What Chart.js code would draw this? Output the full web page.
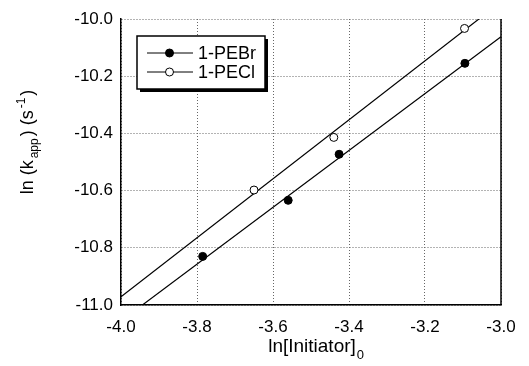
<!DOCTYPE html>
<html>
<head>
<meta charset="utf-8">
<script src="https://cdn.jsdelivr.net/npm/chart.js@4/dist/chart.umd.min.js"></script>
<style>
  html, body { margin: 0; padding: 0; background: #fff; }
  #wrap { width: 529px; height: 366px; position: relative; }
</style>
</head>
<body>
<div id="wrap"><canvas id="myChart" width="529" height="366"></canvas></div>
<script>
// data
const brX = [-3.785, -3.56, -3.426, -3.095];
const brY = [-10.83, -10.634, -10.473, -10.155];
const clX = [-3.65, -3.44, -3.096];
const clY = [-10.598, -10.414, -10.033];
// fitted lines (end points at x = -4 and x = -3)
const fitX = [-4.0, -3.0];
const fitBrY = [-11.056, -10.062];
const fitClY = [-10.971, -9.94];
const seriesNames = ["1-PEBr", "1-PECl"];

const FONT = "'Liberation Sans', Arial, sans-serif";

function pts(xs, ys) {
  return xs.map((x, i) => ({ x: x, y: ys[i] }));
}

// legend box with drop shadow, and axis titles with sub/superscripts
const extras = {
  id: "extras",
  afterDraw(chart) {
    const c = chart.ctx;
    const area = chart.chartArea;
    c.save();

    // solid right edge of the frame
    c.beginPath();
    c.moveTo(area.right, area.top);
    c.lineTo(area.right, area.bottom);
    c.strokeStyle = "#000";
    c.lineWidth = 1.5;
    c.stroke();

    // legend
    const bx = 137, by = 36, bw = 128, bh = 53;
    c.fillStyle = "#000";
    c.fillRect(bx + 3, by + 3, bw, bh);
    c.fillStyle = "#fff";
    c.fillRect(bx, by, bw, bh);
    c.strokeStyle = "#000";
    c.lineWidth = 1.5;
    c.strokeRect(bx, by, bw, bh);
    const rows = [53, 72];
    const fills = ["#000", "#fff"];
    rows.forEach((ry, i) => {
      c.beginPath();
      c.moveTo(147, ry);
      c.lineTo(193, ry);
      c.lineWidth = 1;
      c.strokeStyle = "#000";
      c.stroke();
      c.beginPath();
      c.arc(169.5, ry, 4, 0, Math.PI * 2);
      c.fillStyle = fills[i];
      c.fill();
      c.stroke();
      c.fillStyle = "#000";
      c.font = "18px " + FONT;
      c.textBaseline = "middle";
      c.textAlign = "left";
      c.fillText(seriesNames[i], 198, ry + 1);
    });

    // x title: ln[Initiator]0
    c.fillStyle = "#000";
    c.textBaseline = "alphabetic";
    c.font = "19px " + FONT;
    const xt = "ln[Initiator]";
    const xw = c.measureText(xt).width;
    const x0 = 316 - (xw + 8) / 2;
    c.fillText(xt, x0, 352);
    c.font = "13px " + FONT;
    c.fillText("0", x0 + xw + 1, 359);

    // y title: ln (k_app) (s^-1)
    c.translate(33, 141);
    c.rotate(-Math.PI / 2);
    const parts = [
      ["ln (k", 18, 0],
      ["app", 12, 5],
      [") (s", 18, 0],
      ["-1", 12, -8],
      [")", 18, 0],
    ];
    let total = 0;
    parts.forEach((p) => {
      c.font = p[1] + "px " + FONT;
      total += c.measureText(p[0]).width + 2;
    });
    let px = -total / 2;
    parts.forEach((p) => {
      c.font = p[1] + "px " + FONT;
      c.fillText(p[0], px, p[2]);
      px += c.measureText(p[0]).width + 2;
    });

    c.restore();
  },
};

const ctx = document.getElementById("myChart").getContext("2d");
window.chart = new Chart(ctx, {
  type: "scatter",
  data: {
    datasets: [
      {
        label: seriesNames[0],
        data: pts(brX, brY),
        pointRadius: 4,
        pointBackgroundColor: "#000",
        pointBorderColor: "#000",
        pointBorderWidth: 1,
        showLine: false,
      },
      {
        label: seriesNames[1],
        data: pts(clX, clY),
        pointRadius: 4,
        pointBackgroundColor: "#fff",
        pointBorderColor: "#000",
        pointBorderWidth: 1,
        showLine: false,
      },
      {
        label: "fit Br",
        data: pts(fitX, fitBrY),
        showLine: true,
        borderColor: "#000",
        borderWidth: 1.2,
        pointRadius: 0,
        order: 5,
      },
      {
        label: "fit Cl",
        data: pts(fitX, fitClY),
        showLine: true,
        borderColor: "#000",
        borderWidth: 1.2,
        pointRadius: 0,
        order: 5,
      },
    ],
  },
  options: {
    responsive: false,
    animation: false,
    layout: { padding: { left: 0, right: 28, top: 19, bottom: 0 } },
    plugins: {
      legend: { display: false },
      tooltip: { enabled: false },
    },
    scales: {
      x: {
        type: "linear",
        min: -4.0,
        max: -3.0,
        ticks: {
          stepSize: 0.2,
          padding: 12,
          color: "#000",
          font: { family: FONT, size: 17 },
          callback: (v) => v.toFixed(1),
        },
        grid: {
          color: "#666",
          lineWidth: 1,
          drawTicks: false,
        },
        border: { display: true, color: "#000", width: 1.5, dash: [1, 2] },
        afterFit: (axis) => { axis.height = 61; },
      },
      y: {
        type: "linear",
        min: -11.0,
        max: -10.0,
        ticks: {
          stepSize: 0.2,
          padding: 8,
          color: "#000",
          font: { family: FONT, size: 17 },
          callback: (v) => v.toFixed(1),
        },
        grid: {
          color: "#666",
          lineWidth: 1,
          drawTicks: false,
        },
        border: { display: true, color: "#000", width: 1.5, dash: [1, 2] },
        afterFit: (axis) => { axis.width = 121; },
      },
    },
  },
  plugins: [extras],
});
</script>
</body>
</html>
